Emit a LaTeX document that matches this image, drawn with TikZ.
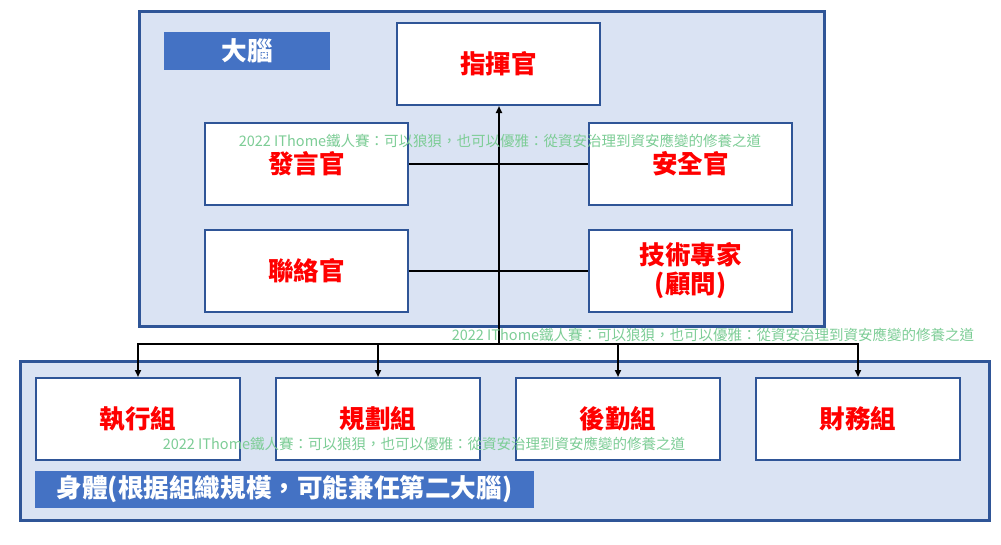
\documentclass[tikz,border=0pt]{standalone}
\usepackage{fontspec}
\setmainfont{Noto Sans CJK TC}
\newfontfamily\cjk{Noto Sans CJK TC}
\usetikzlibrary{arrows.meta,positioning}
\definecolor{panelfill}{RGB}{218,227,243}
\definecolor{panelline}{RGB}{47,85,151}
\definecolor{labelfill}{RGB}{68,114,196}
\definecolor{wmark}{RGB}{125,205,150}
\tikzset{
  panel/.style={draw=panelline, fill=panelfill, line width=3pt},
  rolebox/.style={draw=panelline, fill=white, line width=2pt, minimum width=203pt, minimum height=82pt, inner sep=0pt, align=center, text=red, font=\cjk\bfseries\fontsize{25.5}{29}\selectfont},
  tagbox/.style={fill=labelfill, inner sep=0pt, text=white, font=\cjk\bfseries\fontsize{25.6}{29}\selectfont},
  wm/.style={text=wmark, inner sep=0pt, font=\cjk\fontsize{14.5}{16}\selectfont},
  link/.style={draw=black, line width=2pt},
  arr/.style={link, -{Triangle[length=7pt,width=6pt]}}
}
\begin{document}
\begin{tikzpicture}[x=1pt,y=-1pt]
\useasboundingbox (0,0) rectangle (1001,544);
% containers
\path[panel] (139,11) rectangle (824,326);
\path[panel] (20,361) rectangle (989,520);
% labels
\node[tagbox, minimum width=166pt, minimum height=38pt] (brain) at (247,51) {大腦};
\node[tagbox, minimum width=499pt, minimum height=37pt] (body) at (284.5,489.5) {身體(根据組織規模，可能兼任第二大腦)};
% role boxes
\node[rolebox] (cmd) at (498.5,64) {指揮官};
\node[rolebox] (spk) at (306.5,164) {發言官};
\node[rolebox] (sec) at (690.5,164) {安全官};
\node[rolebox] (lia) at (306.5,271) {聯絡官};
\node[rolebox] (tech) at (690.5,271) {技術專家\\(顧問)};
% group boxes
\node[rolebox, minimum width=204pt] (g1) at (138,419) {執行組};
\node[rolebox, minimum width=204pt] (g2) at (378,419) {規劃組};
\node[rolebox, minimum width=204pt] (g3) at (618,419) {後勤組};
\node[rolebox, minimum width=204pt] (g4) at (858,419) {財務組};
% connectors
\coordinate (j) at (499,344);
\draw[link] (spk.east) -- (sec.west);
\draw[link] (lia.east) -- (tech.west);
\draw[arr] (j) -- (j |- cmd.south);
\draw[arr] (j) -| (g1.north);
\draw[arr] (j) -| (g2.north);
\draw[arr] (j) -| (g3.north);
\draw[arr] (j) -| (g4.north);
% watermarks
\node[wm] (w1) at (500,141) {2022 IThome鐵人賽：可以狼狽，也可以優雅：從資安治理到資安應變的修養之道};
\node[wm] (w2) at (713,335) {2022 IThome鐵人賽：可以狼狽，也可以優雅：從資安治理到資安應變的修養之道};
\node[wm] (w3) at (424,444) {2022 IThome鐵人賽：可以狼狽，也可以優雅：從資安治理到資安應變的修養之道};
\end{tikzpicture}
\end{document}
